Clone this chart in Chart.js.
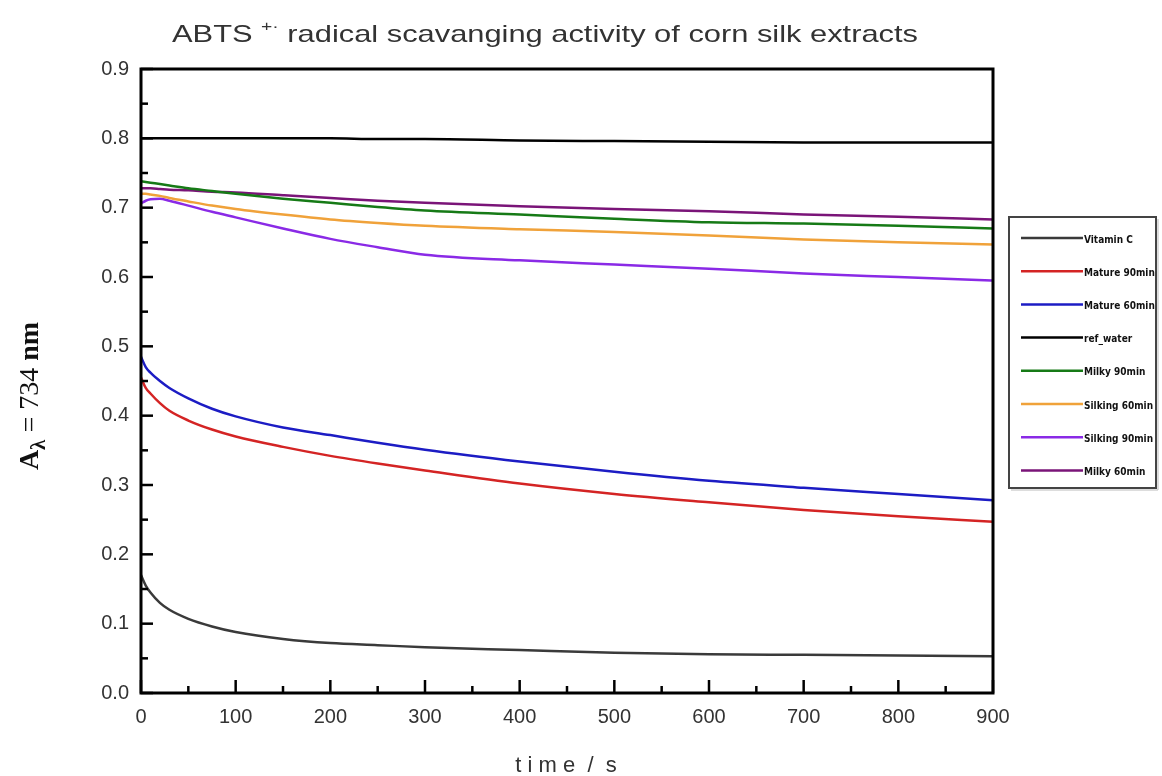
<!DOCTYPE html>
<html>
<head>
<meta charset="utf-8">
<script src="https://cdn.jsdelivr.net/npm/chart.js@4"></script>
<style>
  html, body { margin: 0; padding: 0; background: #fff; }
  #wrap { width: 1162px; height: 776px; position: relative; }
</style>
</head>
<body>
<div id="wrap"><canvas id="abtsChart" width="1162" height="776"></canvas></div>
<script>
// time points (s)
const times = [0, 5, 10, 20, 30, 50, 75, 100, 150, 200, 250, 300, 400, 500, 600, 700, 800, 900];

// absorbance at 734 nm
const vitaminC   = [0.170, 0.155, 0.145, 0.130, 0.120, 0.107, 0.096, 0.088, 0.078, 0.072, 0.069, 0.066, 0.062, 0.058, 0.056, 0.055, 0.054, 0.053];
const mature90   = [0.455, 0.440, 0.432, 0.418, 0.407, 0.393, 0.380, 0.370, 0.355, 0.342, 0.331, 0.321, 0.302, 0.287, 0.275, 0.264, 0.255, 0.247];
const mature60   = [0.485, 0.470, 0.462, 0.450, 0.440, 0.425, 0.410, 0.399, 0.383, 0.372, 0.361, 0.351, 0.334, 0.319, 0.306, 0.296, 0.287, 0.278];
const refWater   = [0.800, 0.800, 0.800, 0.800, 0.800, 0.800, 0.800, 0.800, 0.800, 0.800, 0.799, 0.799, 0.797, 0.796, 0.795, 0.794, 0.794, 0.794];
const milky90    = [0.738, 0.737, 0.736, 0.734, 0.732, 0.728, 0.724, 0.720, 0.713, 0.707, 0.701, 0.696, 0.690, 0.684, 0.679, 0.677, 0.674, 0.670];
const silking60  = [0.720, 0.720, 0.719, 0.717, 0.714, 0.709, 0.703, 0.698, 0.690, 0.683, 0.678, 0.674, 0.669, 0.665, 0.660, 0.654, 0.650, 0.647];
const silking90  = [0.706, 0.710, 0.712, 0.713, 0.710, 0.703, 0.694, 0.686, 0.670, 0.655, 0.643, 0.632, 0.624, 0.618, 0.612, 0.605, 0.600, 0.595];
const milky60    = [0.728, 0.728, 0.728, 0.727, 0.726, 0.725, 0.723, 0.722, 0.718, 0.714, 0.710, 0.707, 0.702, 0.698, 0.695, 0.690, 0.687, 0.683];

const seriesNames  = ['Vitamin C', 'Mature 90min', 'Mature 60min', 'ref_water', 'Milky 90min', 'Silking 60min', 'Silking 90min', 'Milky 60min'];
const seriesValues = [vitaminC, mature90, mature60, refWater, milky90, silking60, silking90, milky60];
const seriesColors = ['#3a3a3a', '#d42424', '#1c1cc4', '#000000', '#167a16', '#f0a23a', '#8a2ae6', '#7a1478'];

const yTicks = [0, 0.1, 0.2, 0.3, 0.4, 0.5, 0.6, 0.7, 0.8, 0.9];
const xTicks = [0, 100, 200, 300, 400, 500, 600, 700, 800, 900];

const datasets = seriesNames.map((name, i) => ({
    label: name,
    data: times.map((t, j) => ({ x: t, y: seriesValues[i][j] })),
    borderColor: seriesColors[i],
    backgroundColor: seriesColors[i],
    borderWidth: 2.5,
    pointRadius: 0,
    cubicInterpolationMode: 'monotone',
    fill: false
}));

// frame, inward ticks, titles and legend box
const decorations = {
    id: 'decorations',
    afterDraw(chart) {
        const ctx = chart.ctx;
        const a = chart.chartArea;
        const xs = chart.scales.x, ys = chart.scales.y;
        ctx.save();
        ctx.strokeStyle = '#000';
        ctx.lineWidth = 3;
        ctx.strokeRect(a.left, a.top, a.right - a.left, a.bottom - a.top);

        // y ticks (major every 0.1, minor every 0.05)
        ctx.lineWidth = 2.5;
        for (let k = 0; k <= 18; k++) {
            const y = ys.getPixelForValue(k * 0.05);
            const len = k % 2 === 0 ? 12 : 7;
            ctx.beginPath();
            ctx.moveTo(a.left, y);
            ctx.lineTo(a.left + len, y);
            ctx.stroke();
        }
        // x ticks (major every 100, minor every 50)
        for (let k = 0; k <= 18; k++) {
            const x = xs.getPixelForValue(k * 50);
            const len = k % 2 === 0 ? 13 : 7;
            ctx.beginPath();
            ctx.moveTo(x, a.bottom);
            ctx.lineTo(x, a.bottom - len);
            ctx.stroke();
        }

        // title with superscript, stretched a little sideways like the source
        ctx.fillStyle = '#333';
        ctx.textBaseline = 'alphabetic';
        ctx.textAlign = 'left';
        const big = '24px "Liberation Sans", Arial, sans-serif';
        const small = '15px "Liberation Sans", Arial, sans-serif';
        const p1 = 'ABTS ', sup = '+·', p2 = ' radical scavanging activity of corn silk extracts';
        ctx.font = big;
        const w1 = ctx.measureText(p1).width, w3 = ctx.measureText(p2).width;
        ctx.font = small;
        const w2 = ctx.measureText(sup).width;
        const sx = 746 / (w1 + w2 + w3);
        ctx.save();
        ctx.translate(172, 42);
        ctx.scale(sx, 1);
        let tx = 0;
        ctx.font = big; ctx.fillText(p1, tx, 0); tx += w1;
        ctx.font = small; ctx.fillText(sup, tx, -11); tx += w2;
        ctx.font = big; ctx.fillText(p2, tx, 0);
        ctx.restore();

        // x axis title
        ctx.font = '22px "Liberation Sans", Arial, sans-serif';
        ctx.textAlign = 'center';
        ctx.fillText('t i m e  /  s', 566, 772);

        // y axis title, rotated, with subscript lambda
        ctx.save();
        ctx.translate(38, 396);
        ctx.rotate(-Math.PI / 2);
        ctx.fillStyle = '#111';
        ctx.textAlign = 'left';
        const fBig = 'bold 28px "Liberation Serif", "Times New Roman", serif';
        const fSub = 'bold 21px "Liberation Serif", "Times New Roman", serif';
        const fMid = '28px "Liberation Serif", "Times New Roman", serif';
        const parts = [['A', fBig, 0], ['λ', fSub, 7], [' = 734 ', fMid, 0], ['nm', fBig, 0]];
        let total = 0;
        parts.forEach(p => { ctx.font = p[1]; total += ctx.measureText(p[0]).width; });
        let px = -total / 2;
        parts.forEach(p => { ctx.font = p[1]; ctx.fillText(p[0], px, p[2]); px += ctx.measureText(p[0]).width; });
        ctx.restore();

        // legend box
        const lx = 1009, ly = 217, lw = 147, lh = 271;
        ctx.fillStyle = '#fff';
        ctx.strokeStyle = '#444';
        ctx.lineWidth = 2;
        ctx.fillRect(lx, ly, lw, lh);
        ctx.strokeRect(lx, ly, lw, lh);
        ctx.strokeStyle = '#bbb';
        ctx.lineWidth = 1;
        ctx.beginPath();
        ctx.moveTo(lx + 2, ly + lh + 2);
        ctx.lineTo(lx + lw + 2, ly + lh + 2);
        ctx.lineTo(lx + lw + 2, ly + 2);
        ctx.stroke();

        ctx.save();
        ctx.beginPath();
        ctx.rect(lx, ly, lw - 1, lh);
        ctx.clip();
        ctx.font = 'bold 10px "DejaVu Sans Condensed", "DejaVu Sans", sans-serif';
        ctx.textAlign = 'left';
        ctx.textBaseline = 'middle';
        chart.data.datasets.forEach((ds, i) => {
            const rowY = 238 + i * 33.2;
            ctx.strokeStyle = ds.borderColor;
            ctx.lineWidth = 2.5;
            ctx.beginPath();
            ctx.moveTo(1021, rowY);
            ctx.lineTo(1083, rowY);
            ctx.stroke();
            ctx.fillStyle = '#111';
            ctx.fillText(ds.label, 1084, rowY + 2);
        });
        ctx.restore();
        ctx.restore();
    }
};

const ctx = document.getElementById('abtsChart').getContext('2d');
const abtsChart = new Chart(ctx, {
    type: 'line',
    data: { datasets: datasets },
    options: {
        responsive: false,
        animation: false,
        layout: { padding: { top: 69, right: 169, left: 0, bottom: 0 } },
        plugins: {
            legend: { display: false },
            title: { display: false },
            tooltip: { enabled: false }
        },
        scales: {
            x: {
                type: 'linear',
                min: 0,
                max: 900,
                afterFit: s => { s.height = 83; },
                afterBuildTicks: s => { s.ticks = xTicks.map(v => ({ value: v })); },
                grid: { display: false, drawTicks: false },
                border: { display: false },
                ticks: {
                    color: '#333',
                    padding: 12,
                    maxRotation: 0,
                    font: { family: '"Liberation Sans", Arial, sans-serif', size: 20 }
                }
            },
            y: {
                type: 'linear',
                min: 0,
                max: 0.9,
                afterFit: s => { s.width = 141; },
                afterBuildTicks: s => { s.ticks = yTicks.map(v => ({ value: v })); },
                grid: { display: false, drawTicks: false },
                border: { display: false },
                ticks: {
                    color: '#333',
                    padding: 12,
                    font: { family: '"Liberation Sans", Arial, sans-serif', size: 20 },
                    callback: v => v.toFixed(1)
                }
            }
        }
    },
    plugins: [decorations]
});
</script>
</body>
</html>
